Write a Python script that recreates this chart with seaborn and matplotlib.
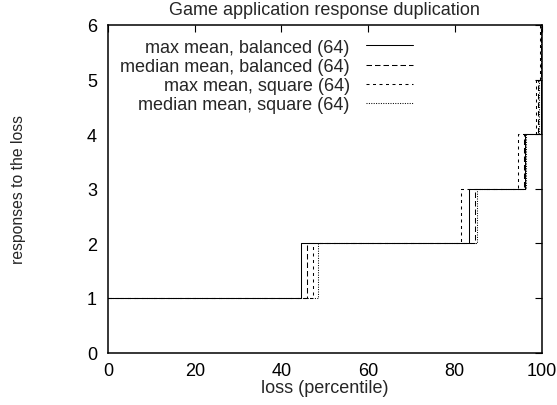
import matplotlib
matplotlib.use("Agg")
import matplotlib.pyplot as plt
import seaborn as sns
import pandas as pd

# ---- data: percentile at which each series steps up one response level ----
levels = [1, 2, 3, 4, 5, 6]
series_names = [
    "max mean, balanced (64)",
    "median mean, balanced (64)",
    "max mean, square (64)",
    "median mean, square (64)",
]
max_mean_balanced = [0, 44.6, 83.3, 96.2, 99.95, 100.0]
median_mean_balanced = [0, 45.8, 84.7, 96.0, 99.3, 99.8]
max_mean_square = [0, 47.2, 81.4, 94.6, 98.7, 99.7]
median_mean_square = [0, 48.5, 85.2, 96.4, 99.5, 99.9]
series_x = [max_mean_balanced, median_mean_balanced, max_mean_square, median_mean_square]

x_ticks = [0, 20, 40, 60, 80, 100]
y_ticks = [0, 1, 2, 3, 4, 5, 6]

rows = []
for name, xs in zip(series_names, series_x):
    for xv, yv in zip(xs, levels):
        rows.append({"x": xv, "y": yv, "series": name})
    if xs[-1] < 100:
        rows.append({"x": 100.0, "y": levels[-1], "series": name})
df = pd.DataFrame(rows)

sns.set_theme(style="white")
plt.rcParams["font.family"] = ["Liberation Sans", "DejaVu Sans"]

fig = plt.figure(figsize=(5.57, 4.06), dpi=100)
ax = fig.add_axes([108 / 557, 1 - 353.5 / 406, 433.5 / 557, 327.5 / 406])

styles = [(None), (5.5, 3.0), (3.0, 3.5), (1.0, 1.4)]
lw = 0.75
for name, st in zip(series_names, styles):
    sub = df[df["series"] == name]
    kw = {}
    if st is not None:
        kw["dashes"] = [d / lw * 0.72 for d in st]
    sns.lineplot(data=sub, x="x", y="y", ax=ax, color="black", lw=lw,
                 drawstyle="steps-post", estimator=None, sort=True,
                 label=name, **kw)

ax.set_xlim(0, 100)
ax.set_ylim(0, 6)
ax.set_xticks(x_ticks)
ax.set_yticks(y_ticks)
fs = 13
ax.tick_params(direction="in", length=5, width=0.8, top=True, right=True,
               labelsize=fs, colors="black", pad=7)
ax.tick_params(axis="y", pad=8)
for sp in ax.spines.values():
    sp.set_color("black")
    sp.set_linewidth(1.1)

ax.set_title("Game application response duplication", fontsize=fs, pad=8)
ax.set_xlabel("loss (percentile)", fontsize=fs, labelpad=0)
ax.set_ylabel("responses to the loss", fontsize=11.3)
ax.yaxis.set_label_coords(-0.19, 0.5)

handles, labels = ax.get_legend_handles_labels()
ax.legend(handles, labels, loc="upper right", bbox_to_anchor=(0.7036, 0.958),
          frameon=False, markerfirst=False, alignment="right", fontsize=fs,
          handlelength=2.6, handletextpad=0.9, labelspacing=0.12,
          borderpad=0, borderaxespad=0)

fig.savefig("out.png", dpi=100)
